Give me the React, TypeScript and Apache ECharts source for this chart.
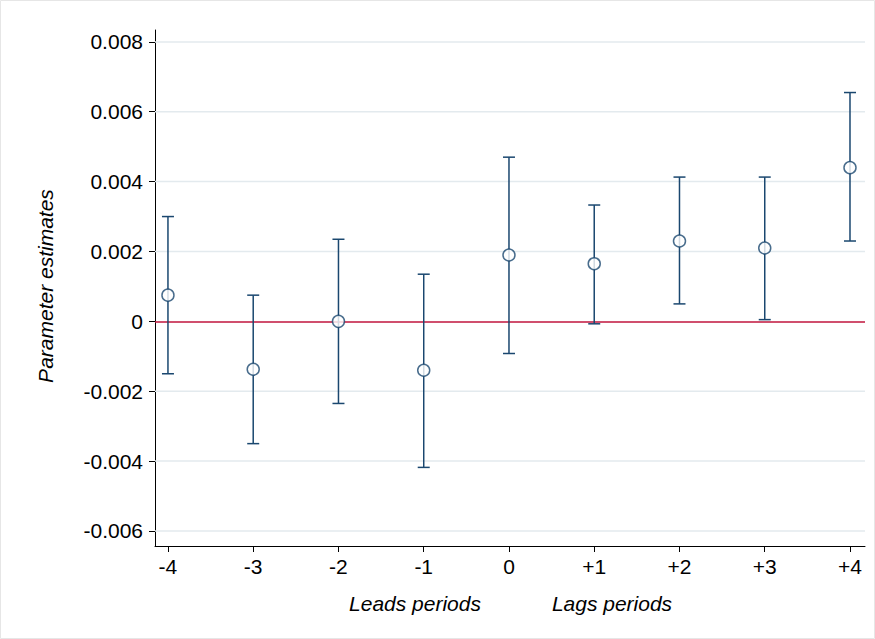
import { useEffect, useRef } from "react";
import * as echarts from "echarts";

const periods = [-4, -3, -2, -1, 0, 1, 2, 3, 4];
const estimates = [0.00075, -0.00137, 0.0, -0.0014, 0.0019, 0.00165, 0.0023, 0.0021, 0.0044];
const lower = [-0.0015, -0.0035, -0.00235, -0.00418, -0.00092, -0.00007, 0.0005, 0.00005, 0.0023];
const upper = [0.003, 0.00075, 0.00235, 0.00135, 0.0047, 0.00333, 0.00413, 0.00413, 0.00655];
const yTicks = [-0.006, -0.004, -0.002, 0, 0.002, 0.004, 0.006, 0.008];

const NAVY = "#1a476f";
const FONT = "Liberation Sans, Arial, sans-serif";

export default function App() {
  const ref = useRef<HTMLDivElement>(null);

  useEffect(() => {
    if (!ref.current) return;
    const chart = echarts.init(ref.current, null, { renderer: "svg" });
    chart.setOption({
      animation: false,
      backgroundColor: "#fff",
      textStyle: { fontFamily: FONT },
      grid: { left: 155, right: 10, top: 30, bottom: 93 },
      graphic: [
        { type: "rect", shape: { x: 0.5, y: 0.5, width: 874, height: 638 }, style: { fill: "none", stroke: "#e6e6e6" } },
        { type: "text", x: 415, y: 603, style: { text: "Leads periods", font: `italic 21px ${FONT}`, fill: "#000", align: "center", verticalAlign: "middle" } },
        { type: "text", x: 612, y: 603, style: { text: "Lags periods", font: `italic 21px ${FONT}`, fill: "#000", align: "center", verticalAlign: "middle" } },
        { type: "text", x: 45, y: 286, rotation: Math.PI / 2, style: { text: "Parameter estimates", font: `italic 21px ${FONT}`, fill: "#000", align: "center", verticalAlign: "middle" } },
      ],
      xAxis: {
        type: "value",
        min: -4.152,
        max: 4.176,
        axisLine: { onZero: false, lineStyle: { color: "#000" } },
        axisTick: { customValues: periods, length: 6, lineStyle: { color: "#000" } },
        axisLabel: {
          customValues: periods,
          color: "#000",
          fontSize: 21,
          margin: 10,
          formatter: (v: number) => (v > 0 ? "+" + v : String(v)),
        },
        splitLine: { show: false },
      },
      yAxis: {
        type: "value",
        min: -0.00643,
        max: 0.00834,
        axisLine: { show: true, onZero: false, lineStyle: { color: "#000" } },
        axisTick: { show: true, customValues: yTicks, length: 6, lineStyle: { color: "#000" } },
        axisLabel: {
          customValues: yTicks,
          color: "#000",
          fontSize: 21,
          margin: 12,
          formatter: (v: number) => (Math.abs(v) < 1e-9 ? "0" : v.toFixed(3)),
        },
        splitLine: { show: false },
      },
      series: [
        {
          type: "custom",
          data: yTicks.filter((t) => t !== 0).map((t) => [t]),
          silent: true,
          z: 1,
          renderItem: (params: any, api: any) => {
            const c = params.coordSys;
            const y = api.coord([0, api.value(0)])[1];
            return {
              type: "line",
              shape: { x1: c.x, y1: y, x2: c.x + c.width, y2: y },
              style: { stroke: "#e3eaee", lineWidth: 1.5 },
            };
          },
          encode: { y: 0 },
        },
        {
          type: "custom",
          data: periods.map((p, i) => [p, lower[i], upper[i]]),
          renderItem: (_params: any, api: any) => {
            const lo = api.coord([api.value(0), api.value(1)]);
            const hi = api.coord([api.value(0), api.value(2)]);
            const w = 6;
            const s = { stroke: NAVY, lineWidth: 1.5 };
            return {
              type: "group",
              children: [
                { type: "line", shape: { x1: lo[0], y1: lo[1], x2: hi[0], y2: hi[1] }, style: s },
                { type: "line", shape: { x1: lo[0] - w, y1: lo[1], x2: lo[0] + w, y2: lo[1] }, style: s },
                { type: "line", shape: { x1: hi[0] - w, y1: hi[1], x2: hi[0] + w, y2: hi[1] }, style: s },
              ],
            };
          },
          z: 3,
        },
        {
          type: "scatter",
          data: periods.map((p, i) => [p, estimates[i]]),
          symbol: "circle",
          symbolSize: 12,
          itemStyle: { color: "#fff", borderColor: NAVY, borderWidth: 1.5 },
          z: 5,
          markLine: {
            symbol: "none",
            silent: true,
            label: { show: false },
            z: 2,
            data: [{ yAxis: 0, lineStyle: { color: "#c0143c", width: 1.5, type: "solid" } }],
          },
        },
      ],
    });
    return () => chart.dispose();
  }, []);

  return <div ref={ref} style={{ position: "fixed", left: 0, top: 0, width: 875, height: 639 }} />;
}
